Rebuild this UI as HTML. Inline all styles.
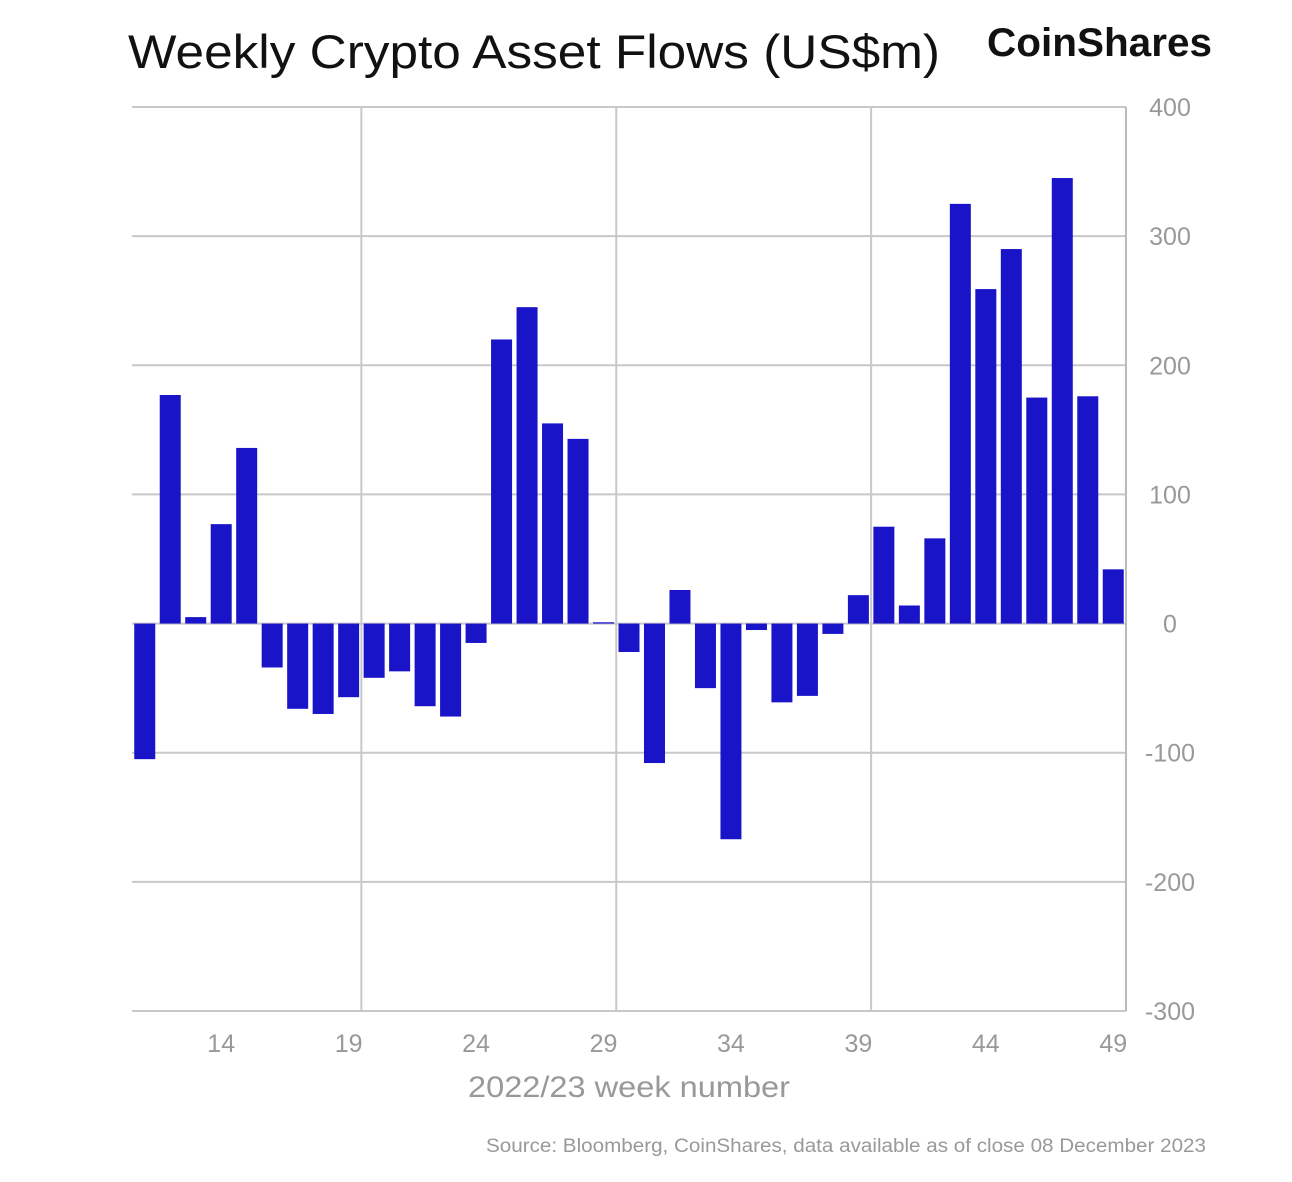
<!DOCTYPE html>
<html><head><meta charset="utf-8"><style>
body{margin:0;background:#fff;width:1292px;height:1177px;overflow:hidden;font-family:"Liberation Sans",sans-serif}
</style></head><body>
<svg id="chart" width="1292" height="1177" xmlns="http://www.w3.org/2000/svg">
<text x="128" y="68" font-size="47" fill="#111" textLength="812" lengthAdjust="spacingAndGlyphs" font-family="Liberation Sans, sans-serif">Weekly Crypto Asset Flows (US$m)</text>
<text x="987" y="56" font-size="40" font-weight="bold" fill="#111" textLength="225" lengthAdjust="spacingAndGlyphs" font-family="Liberation Sans, sans-serif">CoinShares</text>
<g id="grid"></g>
<g id="bars"></g>
<g id="axes"></g>
<text x="468" y="1097" font-size="30" fill="#999" textLength="322" lengthAdjust="spacingAndGlyphs">2022/23 week number</text>
<text x="486" y="1152" font-size="19" fill="#999" textLength="720" lengthAdjust="spacingAndGlyphs">Source: Bloomberg, CoinShares, data available as of close 08 December 2023</text>
</svg>
<script>
const weeks = [11,12,13,14,15,16,17,18,19,20,21,22,23,24,25,26,27,28,29,30,31,32,33,34,35,36,37,38,39,40,41,42,43,44,45,46,47,48,49];
const flows = [-105,177,5,77,136,-34,-66,-70,-57,-42,-37,-64,-72,-15,220,245,155,143,1,-22,-108,26,-50,-167,-5,-61,-56,-8,22,75,14,66,325,259,290,175,345,176,42];
const yTicks = [400,300,200,100,0,-100,-200,-300];
const xTicks = [14,19,24,29,34,39,44,49];
const gridWeeks = [19,29,39];
const NS="http://www.w3.org/2000/svg";
const left=132,right=1126,slot=(right-left)/weeks.length,barW=21;
const yTop=107,yBot=1011,yMax=400,yMin=-300;
function y(v){return yTop+(yMax-v)*(yBot-yTop)/(yMax-yMin);}
function xc(w){return left+(weeks.indexOf(w)+0.5)*slot;}
function mk(tag,attrs,parent){const e=document.createElementNS(NS,tag);for(const k in attrs)e.setAttribute(k,attrs[k]);document.getElementById(parent).appendChild(e);return e;}
yTicks.forEach(t=>{
  const l=mk('line',{x1:left,x2:right,y1:y(t),y2:y(t),stroke:'#c8c8c8','stroke-width':2},'grid');
  
  
  const tx=mk('text',{x:1170,y:y(t)+9,'font-size':25,fill:'#999','text-anchor':'middle'},'axes');
  tx.textContent=t;
  
  
});
gridWeeks.forEach(w=>{
  const x=xc(w)+slot/2;
  const l=mk('line',{x1:x,x2:x,y1:yTop,y2:yBot,stroke:'#c8c8c8','stroke-width':2},'grid');
  
  
});
const ax=mk('line',{x1:right,x2:right,y1:yTop,y2:yBot,stroke:'#bbb','stroke-width':2},'grid');


weeks.forEach((w,i)=>{
  const v=flows[i];
  const r=mk('rect',{x:xc(w)-barW/2,y:Math.min(y(v),y(0)),width:barW,height:Math.abs(y(v)-y(0)),fill:'#1a14c8'},'bars');
  
  
});
xTicks.forEach(w=>{
  const tx=mk('text',{x:xc(w),y:1052,'font-size':25,fill:'#999','text-anchor':'middle'},'axes');
  tx.textContent=w;
  
  
});
</script>
</body></html>
